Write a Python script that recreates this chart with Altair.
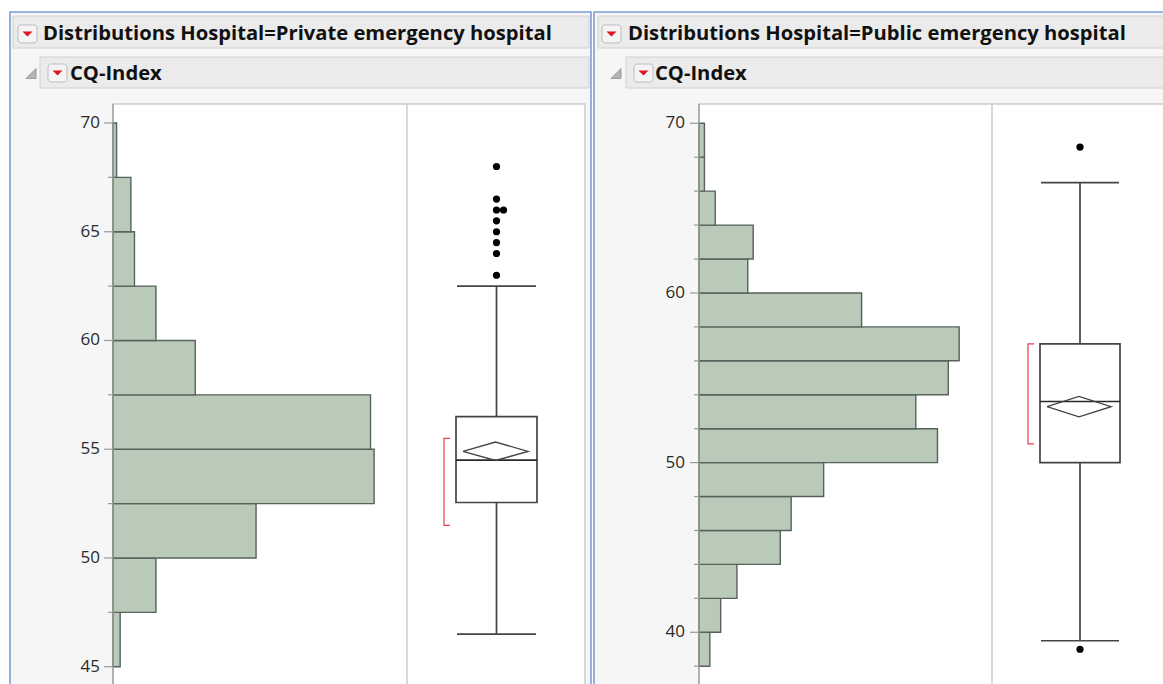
import altair as alt
import pandas as pd

# ---------------- data ----------------
titles = ["Distributions Hospital=Private emergency hospital",
          "Distributions Hospital=Public emergency hospital"]
var_name = "CQ-Index"

# Private hospital histogram (bin lower edges, width 2.5)
priv_bin_lo = [45, 47.5, 50, 52.5, 55, 57.5, 60, 62.5, 65, 67.5]
priv_counts = [2, 12, 40, 73, 72, 23, 12, 6, 5, 1]
priv_bin_w = 2.5
# Public hospital histogram (bin lower edges, width 2)
pub_bin_lo = [38, 40, 42, 44, 46, 48, 50, 52, 54, 56, 58, 60, 62, 64, 66, 68]
pub_counts = [2, 4, 7, 15, 17, 23, 44, 40, 46, 48, 30, 9, 10, 3, 1, 1]
pub_bin_w = 2

# box-plot summaries
priv_box = dict(wlo=46.5, q1=52.55, med=54.5, q3=56.5, whi=62.5,
                mean=54.9, mlo=54.48, mhi=55.33, slo=51.5, shi=55.5)
pub_box = dict(wlo=39.5, q1=50.0, med=53.6, q3=57.0, whi=66.5,
               mean=53.3, mlo=52.7, mhi=53.9, slo=51.1, shi=57.0)
priv_outliers = [63, 64, 64.5, 65, 65.5, 66, 66, 66.5, 68]
pub_outliers = [39.0, 68.6]

# axis ticks
priv_major = [45, 50, 55, 60, 65, 70]
priv_minor = [47.5, 52.5, 57.5, 62.5, 67.5]
pub_major = [40, 50, 60, 70]
pub_minor = [38, 42, 44, 46, 48, 52, 54, 56, 58, 62, 64, 66, 68]

# ---------------- layout / style ----------------
FONT = "Open Sans"
W, H = 1163, 684
BLUE = "#7b9fd3"
PANEL_BG = "#f6f6f6"
HDR_BG = "#ebebeb"
HDR_BORDER = "#d0d0d0"
FRAME = "#cdcdcd"
HIST_FILL = "#b9cab9"
HIST_STROKE = "#56625a"
BOX_STROKE = "#444444"
RED = "#ea3d50"

panels = [
    dict(px0=10, px1=591, hx0=13, sx0=40, tx=43, stx=70, btn=18, tri=31,
         fx0=113, div=407, fx1=585, ydom=[45, 70], yrng=[666.7, 123.0],
         xmax=82.2, bins=priv_bin_lo, counts=priv_counts, bw=priv_bin_w,
         box=priv_box, outl=priv_outliers, major=priv_major, minor=priv_minor,
         bx0=456, bx1=537, dx0=463, dx1=528, brx=444, lblx=100, title=titles[0]),
    dict(px0=594, px1=1170, hx0=598, sx0=626, tx=628, stx=655, btn=602, tri=616,
         fx0=699, div=992, fx1=1170, ydom=[38, 70], yrng=[666.2, 123.3],
         xmax=54.06, bins=pub_bin_lo, counts=pub_counts, bw=pub_bin_w,
         box=pub_box, outl=pub_outliers, major=pub_major, minor=pub_minor,
         bx0=1040, bx1=1120, dx0=1047, dx1=1111, brx=1028, lblx=685, title=titles[1]),
]

dummy = pd.DataFrame({"a": [0]})


def rect(x1, y1, x2, y2, fill, stroke=None, sw=1.0, r=0):
    kw = dict(fill=fill, strokeWidth=sw, cornerRadius=r)
    if stroke:
        kw["stroke"] = stroke
    else:
        kw["strokeWidth"] = 0
    return alt.Chart(dummy).mark_rect(**kw).encode(
        x=alt.value(x1), x2=alt.value(x2), y=alt.value(y1), y2=alt.value(y2))


def vline(x, y1, y2, color, sw=1.0):
    return alt.Chart(dummy).mark_rule(color=color, strokeWidth=sw).encode(
        x=alt.value(x), y=alt.value(y1), y2=alt.value(y2))


def label(s, x, y, size, weight="bold", color="#111111"):
    return alt.Chart(dummy).mark_text(text=s, font=FONT, fontSize=size, fontWeight=weight,
                                      color=color, align="left", baseline="alphabetic").encode(
        x=alt.value(x), y=alt.value(y))


def yenc(p, field):
    return alt.Y(field, type="quantitative", axis=None,
                 scale=alt.Scale(domain=p["ydom"], range=p["yrng"], nice=False, zero=False))


layers = [rect(0, 0, W, H, "white")]

for p in panels:
    # panel window
    layers.append(rect(p["px0"], 12, p["px1"], H + 5, PANEL_BG, BLUE, 1.6))
    layers.append(rect(p["hx0"], 16, p["px1"] - 2, 48, HDR_BG, HDR_BORDER, 1))
    layers.append(rect(p["sx0"], 57, p["px1"] - 2, 88, HDR_BG, HDR_BORDER, 1))
    # red-triangle buttons
    for bx, by in [(p["btn"], 25), (p["sx0"] + 8, 64)]:
        layers.append(rect(bx, by, bx + 19, by + 18, "#f4f4f4", "#bdbdbd", 1, 3))
        layers.append(alt.Chart(dummy).mark_point(
            shape="M-1,-0.5L1,-0.5L0,0.5Z", filled=True, fill="#e0141e",
            size=100, opacity=1, strokeWidth=0).encode(
            x=alt.value(bx + 9.5), y=alt.value(by + 9)))
    # disclosure triangle
    layers.append(alt.Chart(dummy).mark_point(
        shape="M1,-1L1,1L-1,1Z", filled=True, fill="#b4b4b4", stroke="#8e8e8e",
        strokeWidth=0.8, size=100, opacity=1).encode(
        x=alt.value(p["tri"]), y=alt.value(73.5)))
    # header texts
    layers.append(label(p["title"], p["tx"], 40, 20.2))
    layers.append(label(var_name, p["stx"], 79.5, 20.2))
    # plot frame
    layers.append(rect(p["fx0"], 104, p["fx1"], H + 10, "white", FRAME, 1.5))
    layers.append(vline(p["div"], 104, H + 10, FRAME, 1.5))

    # histogram
    hist = pd.DataFrame({"lo": p["bins"], "count": p["counts"]})
    hist["hi"] = hist["lo"] + p["bw"]
    layers.append(alt.Chart(hist).mark_rect(fill=HIST_FILL, stroke=HIST_STROKE, strokeWidth=1.4).encode(
        x=alt.X("count:Q", axis=None,
                scale=alt.Scale(domain=[0, p["xmax"]], range=[p["fx0"], p["div"]], nice=False, zero=True)),
        x2=alt.value(p["fx0"]),
        y=yenc(p, "lo"), y2=alt.Y2("hi")))
    layers.append(vline(p["fx0"], 104, H + 10, "#9c9c9c", 1.3))

    # axis ticks & labels
    maj = pd.DataFrame({"v": p["major"], "t": [str(v) for v in p["major"]]})
    mnr = pd.DataFrame({"v": p["minor"]})
    layers.append(alt.Chart(maj).mark_rule(color="#9a9a9a", strokeWidth=1.2).encode(
        x=alt.value(p["fx0"] - 9), x2=alt.value(p["fx0"]), y=yenc(p, "v")))
    layers.append(alt.Chart(mnr).mark_rule(color="#9a9a9a", strokeWidth=1.2).encode(
        x=alt.value(p["fx0"] - 5), x2=alt.value(p["fx0"]), y=yenc(p, "v")))
    layers.append(alt.Chart(maj).mark_text(font=FONT, fontSize=17, color="#2a2a2a",
                                           align="right", baseline="middle").encode(
        x=alt.value(p["lblx"]), y=yenc(p, "v"), text="t:N"))

    # box plot
    b = p["box"]
    cx = (p["bx0"] + p["bx1"]) / 2
    bdf = pd.DataFrame([b])
    layers.append(alt.Chart(bdf).mark_rule(color=BOX_STROKE, strokeWidth=1.7).encode(
        x=alt.value(cx), y=yenc(p, "wlo"), y2=alt.Y2("q1")))
    layers.append(alt.Chart(bdf).mark_rule(color=BOX_STROKE, strokeWidth=1.7).encode(
        x=alt.value(cx), y=yenc(p, "q3"), y2=alt.Y2("whi")))
    caps = pd.DataFrame({"v": [b["wlo"], b["whi"]]})
    layers.append(alt.Chart(caps).mark_rule(color=BOX_STROKE, strokeWidth=1.7).encode(
        x=alt.value(p["bx0"] + 1), x2=alt.value(p["bx1"] - 1), y=yenc(p, "v")))
    layers.append(alt.Chart(bdf).mark_rect(fill="white", fillOpacity=0, stroke=BOX_STROKE, strokeWidth=1.7).encode(
        x=alt.value(p["bx0"]), x2=alt.value(p["bx1"]), y=yenc(p, "q1"), y2=alt.Y2("q3")))
    layers.append(alt.Chart(bdf).mark_rule(color="#2a2a2a", strokeWidth=1.6).encode(
        x=alt.value(p["bx0"]), x2=alt.value(p["bx1"]), y=yenc(p, "med")))
    # mean diamond
    dm = pd.DataFrame({
        "px": [p["dx0"], (p["dx0"] + p["dx1"]) / 2, p["dx1"], (p["dx0"] + p["dx1"]) / 2, p["dx0"]],
        "v": [b["mean"], b["mhi"], b["mean"], b["mlo"], b["mean"]],
        "i": [0, 1, 2, 3, 4]})
    layers.append(alt.Chart(dm).mark_line(color=BOX_STROKE, strokeWidth=1.4).encode(
        x=alt.X("px:Q", scale=None), y=yenc(p, "v"), order="i:Q"))
    # shortest-half bracket
    br = pd.DataFrame({
        "px": [p["brx"] + 6, p["brx"], p["brx"], p["brx"] + 6],
        "v": [b["shi"], b["shi"], b["slo"], b["slo"]],
        "i": [0, 1, 2, 3]})
    layers.append(alt.Chart(br).mark_line(color=RED, strokeWidth=1.2).encode(
        x=alt.X("px:Q", scale=None), y=yenc(p, "v"), order="i:Q"))
    # outliers
    od = pd.DataFrame({"v": p["outl"]})
    od["dup"] = od.groupby("v").cumcount()
    od["px"] = cx + 7 * od["dup"]
    layers.append(alt.Chart(od).mark_circle(color="black", size=52, opacity=1).encode(
        x=alt.X("px:Q", scale=None), y=yenc(p, "v")))

chart = alt.layer(*layers).resolve_scale(x="independent", y="independent").properties(
    width=W, height=H, autosize=alt.AutoSizeParams(type="none"), padding=0,
    background="white").configure_view(stroke=None)

chart.save("out.html", embed_options={"renderer": "svg", "actions": False})
